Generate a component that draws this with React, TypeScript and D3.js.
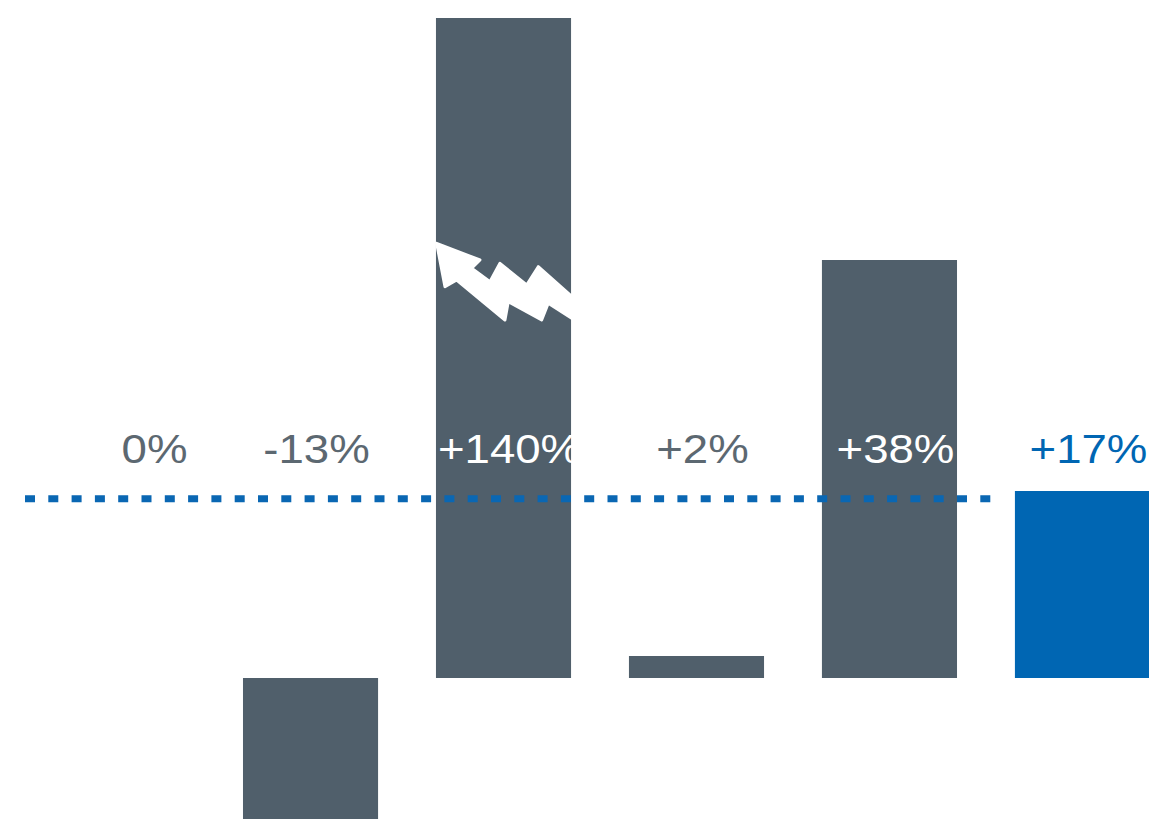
import * as d3 from "d3";
import * as React from "react";

// change in % per step, last one is the total
const categories = ["base", "step1", "step2", "step3", "step4", "total"];
const values = [0, -13, 140, 2, 38, 17];
const labels = ["0%", "-13%", "+140%", "+2%", "+38%", "+17%"];
const refValue = 16.3; // dotted reference line
const capValue = 60; // bars above this get cut with a break mark

const width = 1149;
const height = 819;
const baseY = 678;

const grey = "#505f6b";
const blue = "#0066b3";
const labelGrey = "#5c6871";

// break symbol (zigzag arrow), relative to bar left edge / y(breakAt)
const breakAt = 40;
const breakShape: [number, number][] = [
    [0.7, 5.3], [44, 22], [35.7, 30.3], [54, 43.7], [64, 25.3], [90.7, 47],
    [102.3, 28.7], [140, 62], [140, 83], [112.3, 65.3], [105.7, 82],
    [72.3, 63.7], [69, 82], [20.7, 42], [9, 48.7],
];

export default function App() {
    const x = d3.scaleBand<string>()
        .domain(categories)
        .range([50, 1150])
        .paddingInner(0.3)
        .paddingOuter(0);

    const y = d3.scaleLinear()
        .domain([0, capValue])
        .range([baseY, baseY - 660]);

    const bw = x.bandwidth();
    const last = categories[categories.length - 1];

    return (
        <svg width={width} height={height} style={{ position: "absolute", left: 0, top: 0, background: "white" }}>
            {categories.map((c, i) => {
                const v = values[i];
                if (v === 0) return null;
                const shown = Math.min(v, capValue);
                const y0 = y(Math.max(0, shown));
                const y1 = y(Math.min(0, shown));
                return (
                    <rect key={c} x={x(c)} y={y0} width={bw} height={y1 - y0}
                          fill={c === last ? blue : grey} />
                );
            })}
            {categories.map((c, i) => {
                if (values[i] <= capValue) return null;
                const bx = x(c)!;
                const by = y(breakAt);
                const pts = breakShape.map(([dx, dy]) => `${bx + dx},${by + dy}`).join(" ");
                return <polygon key={"brk" + c} points={pts} fill="white" strokeLinejoin="round" stroke="white" strokeWidth={3} />;
            })}
            {/* reference line, drawn over the bars */}
            <line
                x1={x(categories[0])! - 25}
                x2={x(last)! - 20}
                y1={y(refValue)}
                y2={y(refValue)}
                stroke="#0a67b3"
                strokeWidth={7}
                strokeDasharray="10 13.3"
            />
            {categories.map((c, i) => {
                const cx = x(c)! + bw / 2 + (i === 0 ? 37 : 6);
                const onBar = values[i] > 0 && y(Math.min(values[i], capValue)) < 430 && c !== last;
                const fill = c === last ? blue : onBar ? "white" : labelGrey;
                return (
                    <text key={"lbl" + c}
                          transform={`translate(${cx},463) scale(1.14,1)`}
                          textAnchor="middle"
                          fontFamily="'Liberation Sans', Arial, sans-serif"
                          fontSize={40}
                          fill={fill}>
                        {labels[i]}
                    </text>
                );
            })}
        </svg>
    );
}
